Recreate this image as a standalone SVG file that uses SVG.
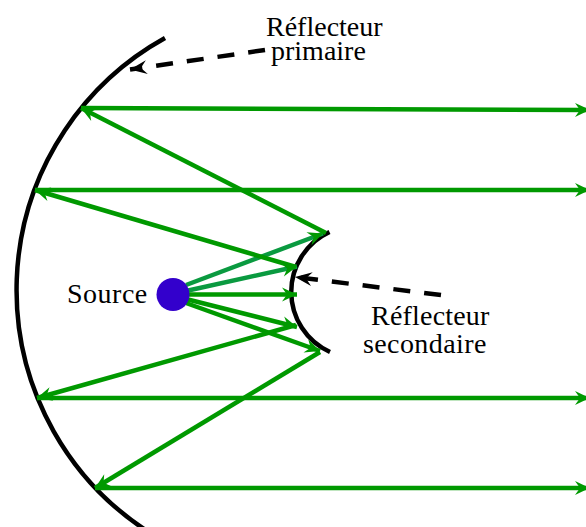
<svg xmlns="http://www.w3.org/2000/svg" width="586" height="527" viewBox="0 0 586 527">
<style>
.ray{fill:none;stroke:#009900;stroke-width:4.500;marker-end:url(#g)}
.ref{fill:none;stroke:#000;stroke-width:4.500}
.dash{fill:none;stroke:#000;stroke-width:4.500;stroke-dasharray:17 14;}
text{font-family:"Liberation Serif","Times New Roman",serif;font-size:28px;fill:#000}
</style>
<defs>
<marker id="g" markerUnits="userSpaceOnUse" markerWidth="24" markerHeight="24" refX="16" refY="10" orient="auto" overflow="visible">
<path d="M16 10L1 3L6 10L1 17Z" fill="#009900"/>
</marker>
<marker id="k" markerUnits="userSpaceOnUse" markerWidth="24" markerHeight="24" refX="18" refY="10" orient="auto" overflow="visible">
<path d="M18 10L1 3L7 10L1 17Z" fill="#000"/>
</marker>
</defs>
<g id="reflecteur-primaire-forme"><path class="ref" d="M165 38A288 288 0 0 0 147 531"/></g>
<g id="reflecteur-secondaire-forme"><path class="ref" d="M329.500 232A66 66 0 0 0 330 352"/></g>
<g id="connectors">
<path class="ray" d="M186 285L323 233.500" style="stroke:#0a9a40"/>
<path class="ray" d="M186 291L297 266.500" style="stroke:#0a9a40"/>
<path class="ray" d="M186 294.500L297 294.500"/>
<path class="ray" d="M186 299L297 327"/>
<path class="ray" d="M186 303L320 351"/>
<path class="ray" d="M326 233L81 108"/>
<path class="ray" d="M296 267L35 190"/>
<path class="ray" d="M296 325L37 398"/>
<path class="ray" d="M320 352L95 488"/>
<path class="ray" d="M81 108L590 110"/>
<path class="ray" d="M35 190L590 190"/>
<path class="ray" d="M37 398L590 398"/>
<path class="ray" d="M95 488L590 488"/>
<path class="dash" d="M265 50L130 69.500" style="marker-end:url(#k)"/>
<path class="dash" d="M441 295L295 277" style="marker-end:url(#k)"/>
</g>
<g id="source"><circle cx="173" cy="294.500" r="16.500" fill="#3300cc"/><text x="67" y="303" letter-spacing=".5">Source</text></g>
<g id="reflecteur-primaire"><text x="266" y="36">Réflecteur</text><text x="271" y="60">primaire</text></g>
<g id="reflecteur-secondaire"><text x="371" y="325" letter-spacing=".2">Réflecteur</text><text x="363" y="353" letter-spacing=".4">secondaire</text></g>
</svg>
